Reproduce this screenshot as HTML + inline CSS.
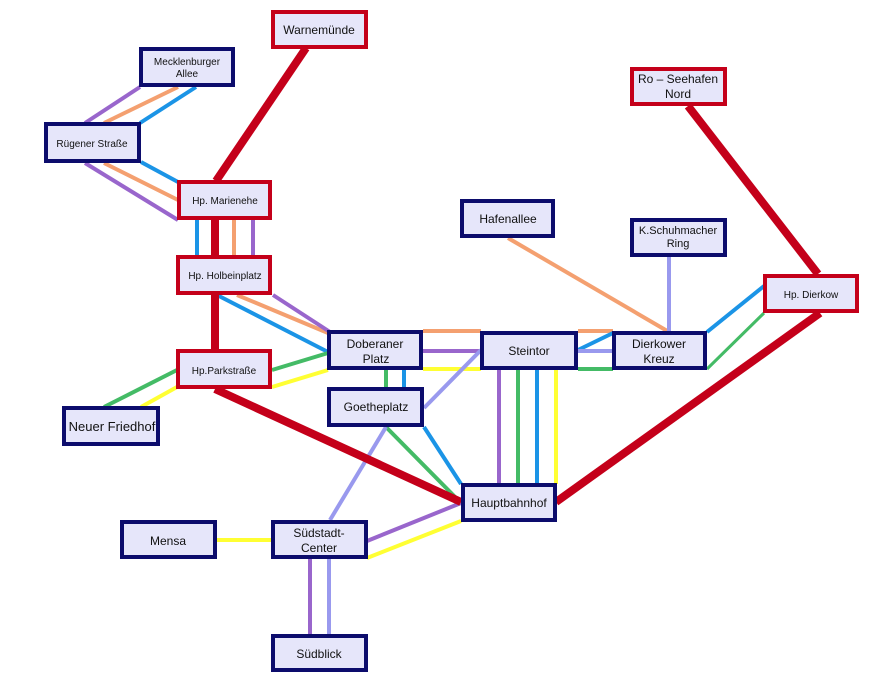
<!DOCTYPE html>
<html><head><meta charset="utf-8"><style>
html,body{margin:0;padding:0;background:#fff;}
svg{display:block;}
text{font-family:"Liberation Sans",sans-serif;fill:#111;text-anchor:middle;}
</style></head><body>
<svg width="888" height="689" viewBox="0 0 888 689">
<g stroke-width="4" fill="none" stroke-linecap="butt">
<!-- Mecklenburger - Rügener -->
<line x1="140" y1="87" x2="85" y2="123" stroke="#9966cc"/>
<line x1="178" y1="87" x2="104" y2="123" stroke="#f4a070"/>
<line x1="196" y1="87" x2="140" y2="123" stroke="#1b94e6"/>
<!-- Rügener - Marienehe -->
<line x1="141" y1="162" x2="178" y2="182" stroke="#1b94e6"/>
<line x1="104" y1="163" x2="178" y2="200" stroke="#f4a070"/>
<line x1="85" y1="163" x2="178" y2="220" stroke="#9966cc"/>
<!-- Marienehe - Holbein -->
<line x1="197" y1="220" x2="197" y2="256" stroke="#1b94e6"/>
<line x1="234" y1="220" x2="234" y2="256" stroke="#f4a070"/>
<line x1="253" y1="220" x2="253" y2="256" stroke="#9966cc"/>
<!-- Holbein - Doberaner -->
<line x1="217" y1="295" x2="328" y2="352" stroke="#1b94e6"/>
<line x1="237" y1="295" x2="328" y2="333" stroke="#f4a070"/>
<line x1="273" y1="295" x2="330" y2="332" stroke="#9966cc"/>
<!-- Parkstraße - Doberaner -->
<line x1="272" y1="370" x2="328" y2="353" stroke="#44bb66"/>
<line x1="272" y1="387" x2="328" y2="370" stroke="#ffff33"/>
<!-- Parkstraße - Neuer Friedhof -->
<line x1="177" y1="370" x2="104" y2="407" stroke="#44bb66"/>
<line x1="177" y1="387" x2="141" y2="407" stroke="#ffff33"/>
<!-- Doberaner - Goethe -->
<line x1="386" y1="370" x2="386" y2="388" stroke="#44bb66"/>
<line x1="404" y1="370" x2="404" y2="388" stroke="#1b94e6"/>
<!-- Doberaner - Steintor -->
<line x1="423" y1="331" x2="481" y2="331" stroke="#f4a070"/>
<line x1="423" y1="351" x2="481" y2="351" stroke="#9966cc"/>
<line x1="423" y1="369" x2="481" y2="369" stroke="#ffff33"/>
<!-- Goethe - Steintor -->
<line x1="424" y1="408" x2="481" y2="350" stroke="#9999ee"/>
<!-- Steintor - Dierkower -->
<line x1="578" y1="331" x2="613" y2="331" stroke="#f4a070"/>
<line x1="578" y1="350" x2="613" y2="333" stroke="#1b94e6"/>
<line x1="578" y1="351" x2="613" y2="351" stroke="#9999ee"/>
<line x1="578" y1="369" x2="613" y2="369" stroke="#44bb66"/>
<!-- Steintor - Hbf -->
<line x1="499" y1="370" x2="499" y2="484" stroke="#9966cc"/>
<line x1="518" y1="370" x2="518" y2="484" stroke="#44bb66"/>
<line x1="537" y1="370" x2="537" y2="484" stroke="#1b94e6"/>
<line x1="556" y1="370" x2="556" y2="484" stroke="#ffff33"/>
<!-- Hafenallee / K.Schuh -->
<line x1="508" y1="238" x2="669" y2="332" stroke="#f4a070"/>
<line x1="669" y1="257" x2="669" y2="332" stroke="#9999ee"/>
<!-- Dierkower - Hp Dierkow -->
<line x1="707" y1="332" x2="764" y2="286" stroke="#1b94e6"/>
<line x1="707" y1="369" x2="764" y2="313" stroke="#44bb66" stroke-width="3"/>
<!-- Goethe - Hbf -->
<line x1="386" y1="427" x2="461" y2="503" stroke="#44bb66"/>
<line x1="424" y1="427" x2="461" y2="484" stroke="#1b94e6"/>
<!-- Goethe - Südstadt -->
<line x1="386" y1="427" x2="330" y2="520" stroke="#9999ee"/>
<!-- Hbf - Südstadt -->
<line x1="461" y1="503" x2="367" y2="541" stroke="#9966cc"/>
<line x1="461" y1="521" x2="367" y2="558" stroke="#ffff33"/>
<!-- Mensa - Südstadt -->
<line x1="216" y1="540" x2="272" y2="540" stroke="#ffff33"/>
<!-- Südstadt - Südblick -->
<line x1="310" y1="559" x2="310" y2="635" stroke="#9966cc"/>
<line x1="329" y1="559" x2="329" y2="635" stroke="#9999ee"/>
</g>
<g stroke="#c4001a" stroke-width="8" fill="none">
<line x1="306" y1="48" x2="216" y2="181"/>
<line x1="215" y1="220" x2="215" y2="256"/>
<line x1="215" y1="295" x2="215" y2="350"/>
<line x1="215" y1="389" x2="461" y2="502"/>
<line x1="556" y1="502" x2="820" y2="313"/>
<line x1="688" y1="106" x2="818" y2="274"/>
</g>
<g fill="#e6e6fa" stroke-width="4">
<rect x="273" y="12" width="93" height="35" stroke="#c4001a"/>
<rect x="141" y="49" width="92" height="36" stroke="#0c0c6c"/>
<rect x="46" y="124" width="93" height="37" stroke="#0c0c6c"/>
<rect x="179" y="182" width="91" height="36" stroke="#c4001a"/>
<rect x="178" y="257" width="92" height="36" stroke="#c4001a"/>
<rect x="178" y="351" width="92" height="36" stroke="#c4001a"/>
<rect x="64" y="408" width="94" height="36" stroke="#0c0c6c"/>
<rect x="329" y="332" width="92" height="36" stroke="#0c0c6c"/>
<rect x="329" y="389" width="93" height="36" stroke="#0c0c6c"/>
<rect x="482" y="333" width="94" height="35" stroke="#0c0c6c"/>
<rect x="614" y="333" width="91" height="35" stroke="#0c0c6c"/>
<rect x="462" y="201" width="91" height="35" stroke="#0c0c6c"/>
<rect x="632" y="220" width="93" height="35" stroke="#0c0c6c"/>
<rect x="632" y="69" width="93" height="35" stroke="#c4001a"/>
<rect x="765" y="276" width="92" height="35" stroke="#c4001a"/>
<rect x="463" y="485" width="92" height="35" stroke="#0c0c6c"/>
<rect x="273" y="522" width="93" height="35" stroke="#0c0c6c"/>
<rect x="122" y="522" width="93" height="35" stroke="#0c0c6c"/>
<rect x="273" y="636" width="93" height="34" stroke="#0c0c6c"/>
</g>
<g font-size="12">
<text x="319" y="34">Warnemünde</text>
<text x="187" y="65" font-size="10">Mecklenburger</text>
<text x="187" y="77" font-size="10">Allee</text>
<text x="92" y="147" font-size="10">Rügener Straße</text>
<text x="225" y="204" font-size="10">Hp. Marienehe</text>
<text x="225" y="279" font-size="10">Hp. Holbeinplatz</text>
<text x="224" y="374" font-size="10">Hp.Parkstraße</text>
<text x="112" y="431" font-size="13">Neuer Friedhof</text>
<text x="375" y="348">Doberaner</text>
<text x="376" y="363">Platz</text>
<text x="376" y="411">Goetheplatz</text>
<text x="529" y="355">Steintor</text>
<text x="659" y="348">Dierkower</text>
<text x="659" y="363">Kreuz</text>
<text x="508" y="223">Hafenallee</text>
<text x="678" y="234" font-size="11">K.Schuhmacher</text>
<text x="678" y="247" font-size="11">Ring</text>
<text x="678" y="83">Ro – Seehafen</text>
<text x="678" y="98">Nord</text>
<text x="811" y="298" font-size="10">Hp. Dierkow</text>
<text x="509" y="507">Hauptbahnhof</text>
<text x="319" y="537">Südstadt-</text>
<text x="319" y="552">Center</text>
<text x="168" y="545">Mensa</text>
<text x="319" y="658">Südblick</text>
</g>
</svg>
</body></html>
